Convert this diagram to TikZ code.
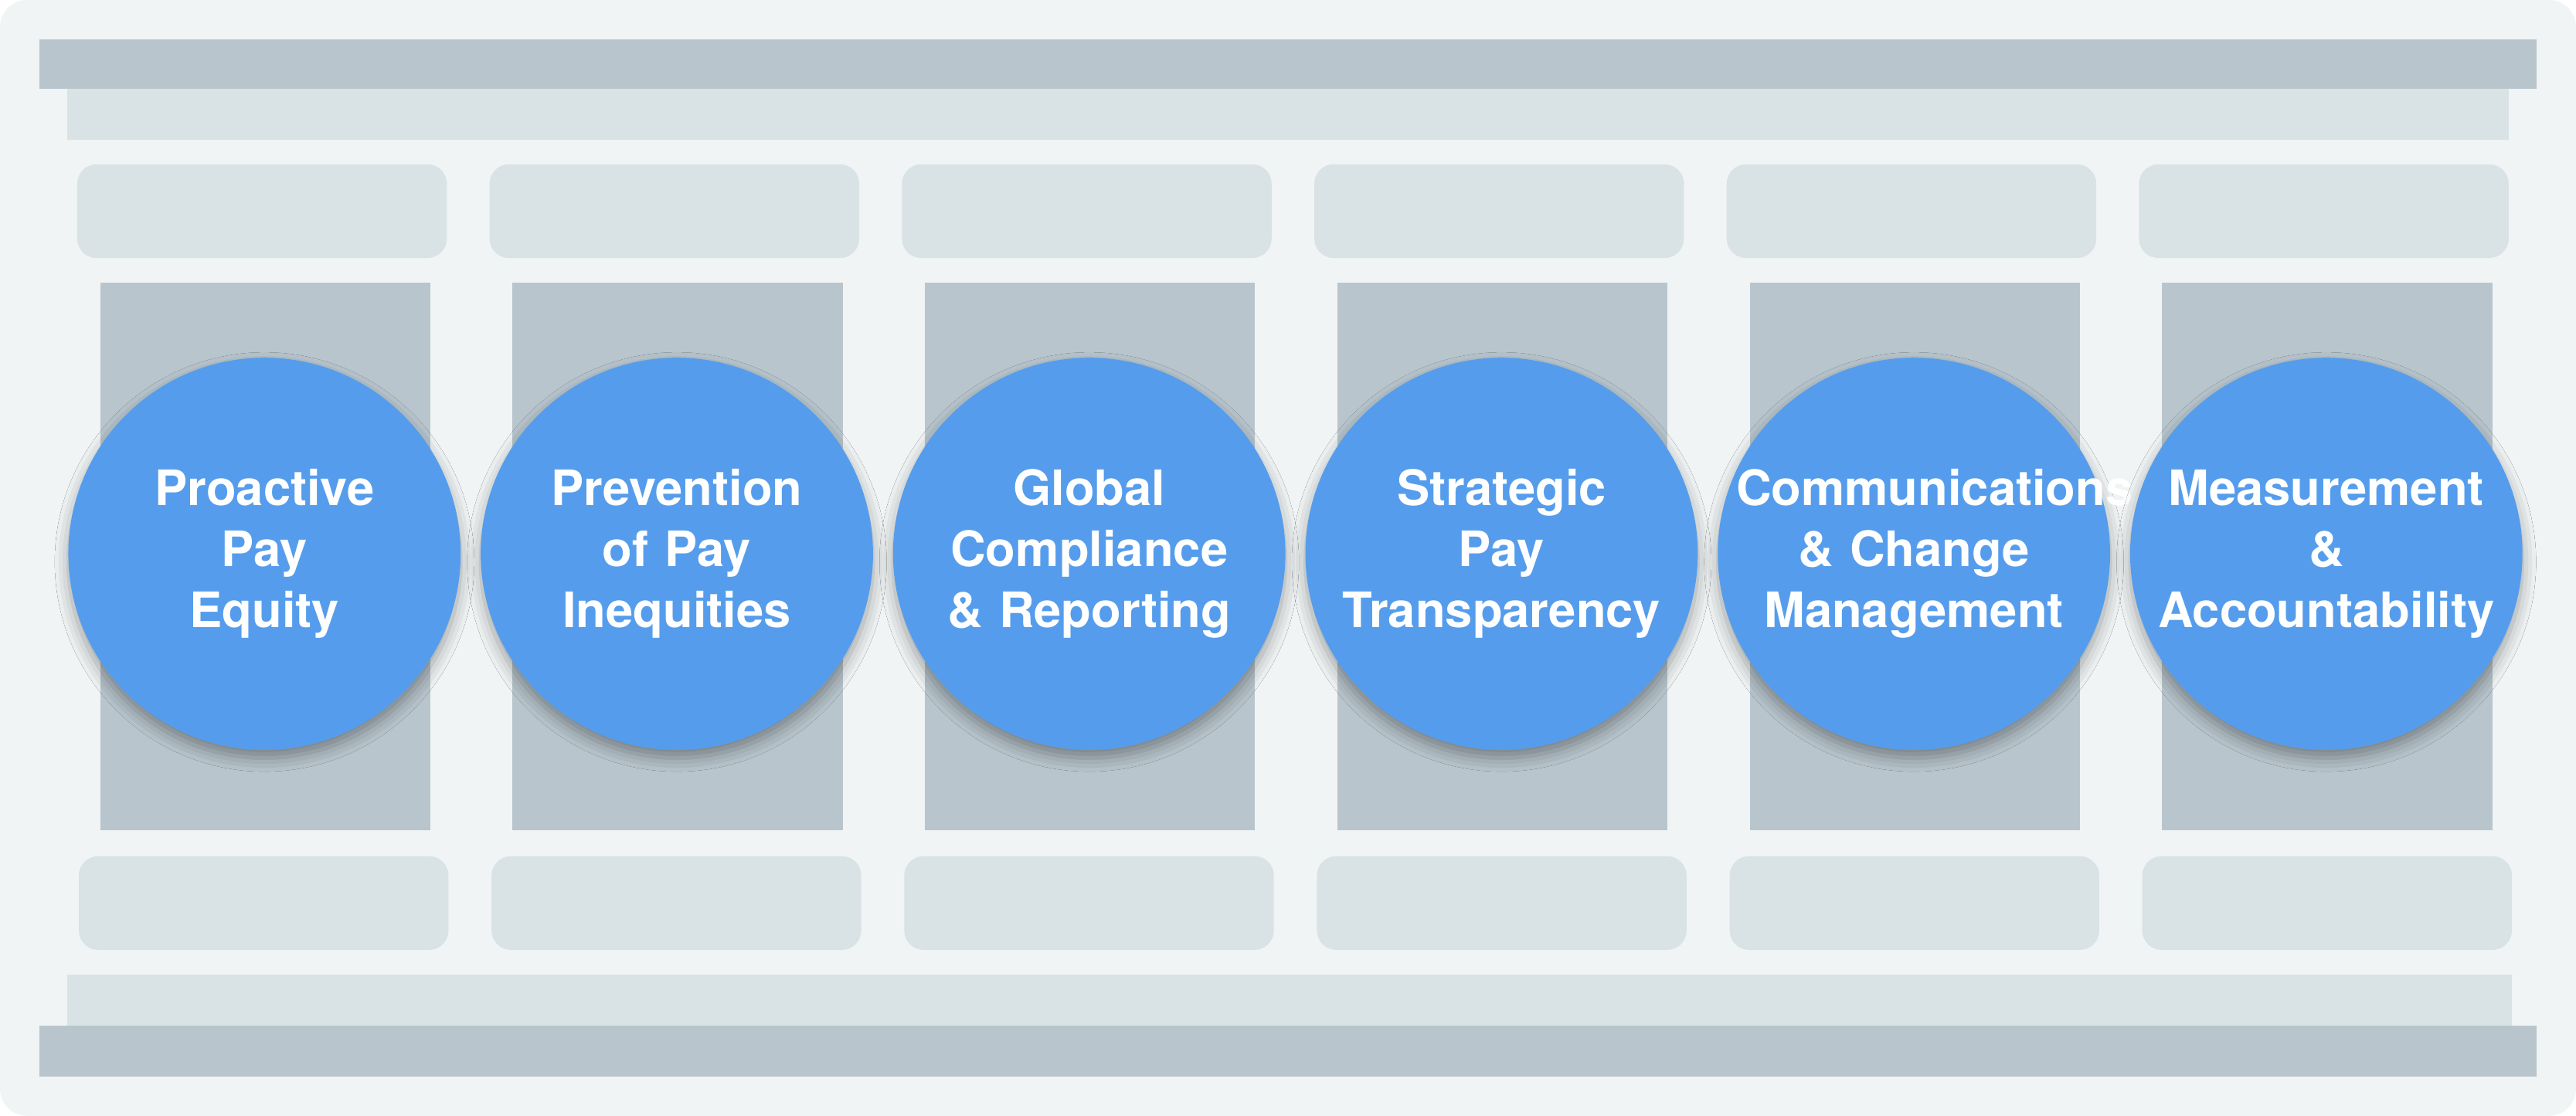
\documentclass[tikz,border=0pt]{standalone}
\usepackage{fontspec}
\setmainfont{TeX Gyre Heros}
\usetikzlibrary{shadows.blur}
\definecolor{bgcol}{HTML}{F0F4F5}
\definecolor{darkbar}{HTML}{B8C5CC}
\definecolor{lightbar}{HTML}{D9E2E5}
\definecolor{pillar}{HTML}{559DEC}
\tikzset{
  pad/.style={fill=lightbar,rounded corners=0.25cm},
  pillarcircle/.style={circle,fill=pillar,minimum size=5.06cm,inner sep=0pt,
    text width=4.6cm,text=white,align=center,
    font=\fontsize{18}{22.5}\selectfont\bfseries,
    blur shadow={shadow xshift=0pt,shadow yshift=-3pt,shadow blur radius=5pt,shadow opacity=35}}
}
\begin{document}
\begin{tikzpicture}[x=0.021263cm,y=-0.021265cm]
  \useasboundingbox (0,0) rectangle (1568,679);

  % Frame and bars
  \fill[bgcol,rounded corners=0.35cm] (0,0) rectangle (1568,679);
  \fill[darkbar] (24,24) rectangle (1544,54);
  \fill[lightbar] (41,54) rectangle (1527,85);
  \fill[lightbar] (41,593) rectangle (1529,624);
  \fill[darkbar] (24,624) rectangle (1544,655);

  % Pillars
  \foreach \i/\txt in {0/{Proactive\\Pay\\Equity},
                       1/{Prevention\\of Pay\\Inequities},
                       2/{Global\\Compliance\\\& Reporting},
                       3/{Strategic\\Pay\\Transparency},
                       4/{Communications\\\& Change\\Management},
                       5/{Measurement\\\&\\Accountability}} {
    \fill[pad] (47+251*\i,100) rectangle (272+251*\i,157);
    \fill[pad] (48+251.2*\i,521) rectangle (273+251.2*\i,578);
    \fill[darkbar] (61+251*\i,172) rectangle (262+251*\i,505);
    \node[pillarcircle] (p\i) at (161+251*\i,337) {\txt};
  }
\end{tikzpicture}
\end{document}
